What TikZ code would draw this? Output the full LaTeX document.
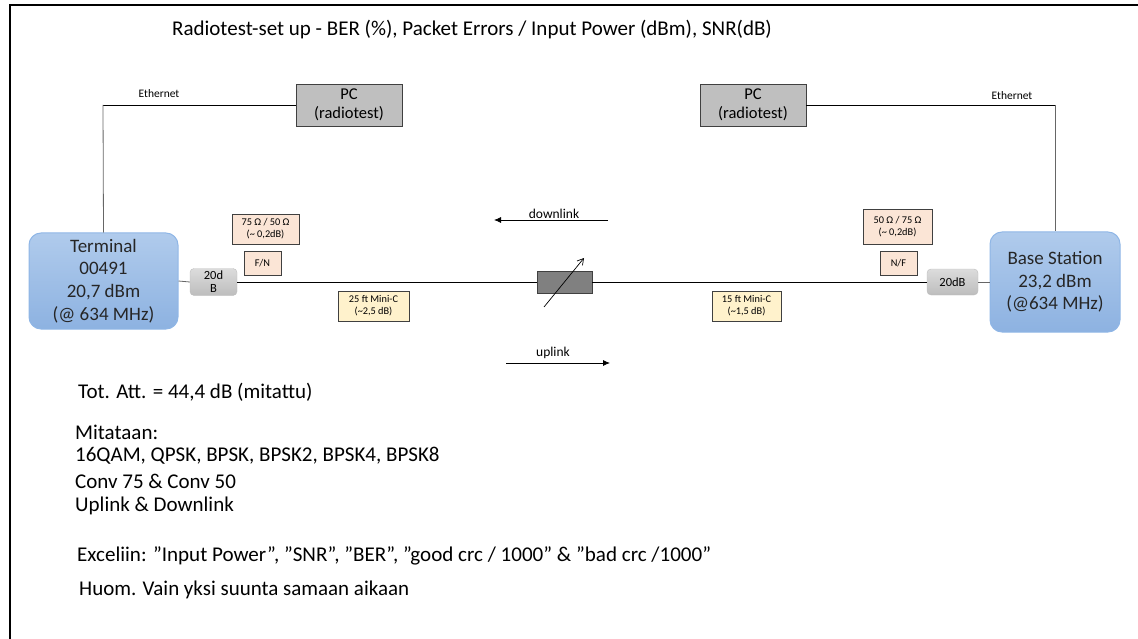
\documentclass[tikz,border=0pt]{standalone}
\usepackage{fontspec}
\setmainfont{Carlito}
\usetikzlibrary{arrows.meta}
\definecolor{devtop}{HTML}{B0CBEC}
\definecolor{devbot}{HTML}{8DB2E1}
\definecolor{devline}{HTML}{8FB6E6}
\definecolor{pcfill}{HTML}{BFBFBF}
\definecolor{padtop}{HTML}{DCDCDC}
\definecolor{padbot}{HTML}{BDBDBD}
\definecolor{adapt}{HTML}{FBE5D6}
\definecolor{cable}{HTML}{FFF2CC}
\definecolor{boxline}{HTML}{404040}
\tikzset{
  device/.style={draw=devline, line width=1pt, rounded corners=12pt, top color=devtop, bottom color=devbot,
    align=center, font=\fontsize{19}{22.7}\selectfont, text=black!85, inner sep=0pt},
  pcbox/.style={draw=boxline, fill=pcfill, align=center, font=\fontsize{16.5}{18.5}\selectfont, inner sep=0pt},
  pad/.style={draw=padbot, rounded corners=4pt, top color=padtop, bottom color=padbot,
    align=center, font=\fontsize{12.5}{13}\selectfont, inner sep=0pt},
  adapter/.style={draw=boxline, fill=adapt, align=center, font=\fontsize{10.3}{12}\selectfont, inner sep=0pt},
  cablebox/.style={draw=boxline, fill=cable, align=center, font=\fontsize{10.3}{12}\selectfont, inner sep=0pt},
  small/.style={font=\fontsize{11.5}{12}\selectfont, inner sep=0pt},
  notes/.style={anchor=west, inner sep=0pt, font=\fontsize{21}{24}\selectfont},
  dirlabel/.style={font=\fontsize{13.5}{14}\selectfont, inner sep=0pt},
  wire/.style={line width=0.8pt},
  dirarrow/.style={line width=0.8pt, -{Latex[length=7pt,width=6pt]}},
}
\begin{document}
\begin{tikzpicture}[x=1pt,y=-1pt]
\useasboundingbox (0,0) rectangle (1138,639);
% frame
\draw[line width=2.5pt] (10,640) -- (10,5) -- (1139,5);

% title
\node[inner sep=0pt, font=\fontsize{21}{24}\selectfont] (title) at (472,30)
  {Radiotest-set up - BER (\%), Packet Errors / Input Power (dBm), SNR(dB)};

% PCs
\node[pcbox, minimum width=106pt, minimum height=42pt] (pcl) at (349,105) {PC\\(radiotest)};
\node[pcbox, minimum width=106pt, minimum height=42pt] (pcr) at (753,105) {PC\\(radiotest)};

% devices
\node[device, minimum width=149pt, minimum height=96pt] (term) at (103.5,281)
  {Terminal\\00491\\20,7 dBm\\(@ 634 MHz)};
\node[device, minimum width=130pt, minimum height=100pt] (bs) at (1055,282)
  {Base Station\\23,2 dBm\\(@634 MHz)};

% 20 dB attenuator pads
\node[pad, minimum width=47pt, minimum height=27pt] (padl) at (213.5,282) {20d\\B};
\node[pad, minimum width=51pt, minimum height=26pt] (padr) at (952.5,282) {20dB};

% variable attenuator
\node[draw=boxline, fill=black!50, minimum width=55pt, minimum height=22pt, inner sep=0pt] (att) at (564.5,282) {};
\coordinate (attA) at (544,307);
\coordinate (attB) at (584,258);
\draw[line width=0.7pt, -{Straight Barb[length=6pt,width=7pt]}] (attA) -- (attB);

% adapters and cables
\node[adapter, minimum width=67pt, minimum height=30pt] (adl) at (265.5,229) {75 Ω / 50 Ω\\(\textasciitilde{} 0,2dB)};
\node[adapter, minimum width=37pt, minimum height=24pt] (fn) at (262.5,263) {F/N};
\node[adapter, minimum width=69pt, minimum height=35pt] (adr) at (897.5,226.5) {50 Ω / 75 Ω\\(\textasciitilde{} 0,2dB)};
\node[adapter, minimum width=37pt, minimum height=24pt] (nf) at (898.5,263) {N/F};
\node[cablebox, minimum width=71pt, minimum height=30pt] (cl) at (373.5,306) {25 ft Mini-C\\(\textasciitilde2,5 dB)};
\node[cablebox, minimum width=69pt, minimum height=30pt] (cr) at (746.5,306) {15 ft Mini-C\\(\textasciitilde1,5 dB)};

% RF chain
\draw[wire, black!60] (term.east) -- (padl.west);
\draw[wire] (padl.east) -- (att.west);
\draw[wire] (att.east) -- (padr.west);
\draw[wire, black!60] (padr.east) -- (bs.west);

% Ethernet links
\coordinate (ethl) at (103,105);
\coordinate (ethr) at (1055,105);
\draw[wire] (pcl.west) -- (ethl);
\draw[wire, black!60] (ethl) -- (term.north);
\draw[wire] (pcr.east) -- (ethr);
\draw[wire, black!60] (ethr) -- (bs.north);
\node[small] (ethlab1) at (159,94) {Ethernet};
\node[small] (ethlab2) at (1012,96) {Ethernet};

% direction arrows
\coordinate (dlA) at (608,220);
\coordinate (dlB) at (494,220);
\draw[dirarrow] (dlA) -- (dlB);
\node[dirlabel] (dl) at (554,214) {downlink};
\coordinate (ulA) at (506,363);
\coordinate (ulB) at (610,363);
\draw[dirarrow] (ulA) -- (ulB);
\node[dirlabel] (ul) at (553,353) {uplink};

% notes
\node[notes] (n1) at (78,392) {Tot. Att. = 44,4 dB (mitattu)};
\node[notes] (n2) at (75,432) {Mitataan:};
\node[notes] (n3) at (75,456) {16QAM, QPSK, BPSK, BPSK2, BPSK4, BPSK8};
\node[notes] (n4) at (75,481) {Conv 75 \& Conv 50};
\node[notes] (n5) at (75,506) {Uplink \& Downlink};
\node[notes] (n6) at (77,556) {\resizebox{634pt}{\height}{Exceliin: ”Input Power”, ”SNR”, ”BER”, ”good crc / 1000” \& ”bad crc /1000”}};
\node[notes] (n7) at (79,590) {\resizebox{330pt}{\height}{Huom. Vain yksi suunta samaan aikaan}};
\end{tikzpicture}
\end{document}
